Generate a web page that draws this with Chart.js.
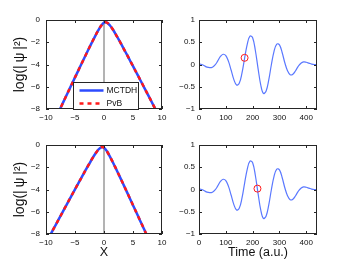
<!DOCTYPE html>
<html>
<head>
<meta charset="utf-8">
<script src="https://cdn.jsdelivr.net/npm/chart.js@4.4.1/dist/chart.umd.min.js"></script>
<style>
    html, body { margin: 0; padding: 0; background: #fff; }
    #wrap { position: relative; width: 350px; height: 264px; }
    canvas { position: absolute; }
</style>
</head>
<body>
<div id="wrap">
    <canvas id="myChart1" width="175" height="132" style="left:0;top:0"></canvas>
    <canvas id="myChart2" width="175" height="132" style="left:175px;top:0"></canvas>
    <canvas id="myChart3" width="175" height="132" style="left:0;top:132px"></canvas>
    <canvas id="myChart4" width="175" height="132" style="left:175px;top:132px"></canvas>
</div>
<script>
// wavefunction profiles, log(|psi|^2) vs X
const xTop = [-8,-7.5,-7,-6.5,-6,-5.5,-5,-4.5,-4,-3.5,-3,-2.5,-2,-1.5,-1,-0.5,0,0.5,1,1.5,2,2.5,3,3.5,4,4.5,5,5.5,6,6.5,7,7.5,8,8.5,9]
const psiTop = [-8.47,-7.91,-7.36,-6.81,-6.26,-5.71,-5.16,-4.62,-4.07,-3.53,-2.99,-2.45,-1.93,-1.42,-0.94,-0.52,-0.24,-0.23,-0.47,-0.83,-1.26,-1.72,-2.19,-2.68,-3.16,-3.66,-4.15,-4.65,-5.14,-5.64,-6.14,-6.64,-7.14,-7.65,-8.15]
const xBottom = [-9.5,-9,-8.5,-8,-7.5,-7,-6.5,-6,-5.5,-5,-4.5,-4,-3.5,-3,-2.5,-2,-1.5,-1,-0.5,0,0.5,1,1.5,2,2.5,3,3.5,4,4.5,5,5.5,6,6.5,7,7.5]
const psiBottom = [-8.31,-7.83,-7.35,-6.87,-6.38,-5.90,-5.42,-4.94,-4.46,-3.99,-3.51,-3.04,-2.57,-2.10,-1.65,-1.20,-0.79,-0.43,-0.21,-0.24,-0.56,-1.02,-1.53,-2.06,-2.61,-3.16,-3.72,-4.28,-4.85,-5.41,-5.97,-6.54,-7.11,-7.67,-8.24]
const zeroLineX = [0, 0]
const zeroLineY = [0, -8]

// signal vs time
const timeAU = [0,10,20,30,40,50,60,70,80,90,100,110,120,130,140,150,160,170,180,190,200,210,220,230,240,250,260,270,280,290,300,310,320,330,340,350,360,370,380,390,400,410,420,430,440]
const signal = [0.01,0,-0.03,-0.06,-0.07,-0.06,-0.01,0.08,0.18,0.23,0.20,0.07,-0.13,-0.34,-0.46,-0.42,-0.20,0.14,0.46,0.64,0.60,0.32,-0.08,-0.45,-0.65,-0.60,-0.35,0,0.30,0.46,0.44,0.27,0.04,-0.14,-0.23,-0.22,-0.14,-0.04,0.03,0.06,0.05,0.03,0.01,0,0]
const markerTopT = [170]
const markerTopV = [0.15]
const markerBottomT = [218]
const markerBottomV = [0.02]

// tick labels
const xTicksLeft = [-10,-5,0,5,10]
const yTicksLeft = [-8,-6,-4,-2,0]
const timeTicks = [0,100,200,300,400]
const signalTicks = [-1,-0.5,0,0.5,1]

const FONT = "'Liberation Sans', Arial, Helvetica, sans-serif"
const BLUE = "rgb(45,75,255)"
const RED = "rgb(255,25,25)"
const YLABEL = "log(|\u2009\u03C8\u2009|\u00B2)"

const pts = (xs, ys) => xs.map((x, i) => ({x: x, y: ys[i]}))
const minus = v => String(v).replace("-", "\u2212")

// matlab style box with inward ticks on all sides
const boxTicks = {
    id: "boxTicks",
    afterDatasetsDraw(chart) {
        const {ctx, chartArea: a, scales: {x, y}} = chart
        ctx.save()
        ctx.strokeStyle = "#262626"
        ctx.lineWidth = 1
        ctx.beginPath()
        x.ticks.forEach(t => {
            const px = Math.round(x.getPixelForValue(t.value)) + 0.5
            ctx.moveTo(px, a.bottom); ctx.lineTo(px, a.bottom - 3)
            ctx.moveTo(px, a.top); ctx.lineTo(px, a.top + 3)
        })
        y.ticks.forEach(t => {
            const py = Math.round(y.getPixelForValue(t.value)) + 0.5
            ctx.moveTo(a.left, py); ctx.lineTo(a.left + 3, py)
            ctx.moveTo(a.right, py); ctx.lineTo(a.right - 3, py)
        })
        ctx.stroke()
        ctx.strokeRect(a.left + 0.5, a.top + 0.5, a.width - 1, a.height - 1)
        ctx.restore()
    }
}

// legend box sitting on the bottom of the axes
const boxLegend = {
    id: "boxLegend",
    afterDraw(chart) {
        if (!chart.options.plugins.boxLegend) return
        const {ctx, chartArea: a} = chart
        const x0 = a.left + 27.5, w = 65, h = 27
        const y0 = a.bottom - h + 0.5
        ctx.save()
        ctx.fillStyle = "#fff"
        ctx.fillRect(x0, y0, w, h)
        ctx.strokeStyle = "#262626"
        ctx.lineWidth = 1
        ctx.strokeRect(x0, y0, w, h)
        ctx.font = "8.5px " + FONT
        ctx.textBaseline = "middle"
        chart.data.datasets.filter(d => d.label).forEach((d, i) => {
            const yy = y0 + 8 + i * 13
            ctx.strokeStyle = d.borderColor
            ctx.lineWidth = d.borderWidth
            ctx.setLineDash(d.borderDash || [])
            ctx.beginPath()
            ctx.moveTo(x0 + 6, yy)
            ctx.lineTo(x0 + 30, yy)
            ctx.stroke()
            ctx.fillStyle = "#111"
            ctx.fillText(d.label, x0 + 33, yy)
        })
        ctx.restore()
    }
}

function axes(xs, ys, xMin, xMax, yMin, yMax, yWidth, xHeight, yPad, yTitle, xTitle) {
    return {
        x: {
            type: "linear", min: xMin, max: xMax,
            grid: {display: false, drawTicks: false}, border: {display: false},
            afterBuildTicks: s => { s.ticks = xs.map(v => ({value: v})) },
            afterFit: s => { s.height = xHeight },
            ticks: {color: "#111", font: {family: FONT, size: 8}, padding: 4, maxRotation: 0, callback: minus},
            title: {display: !!xTitle, text: xTitle, color: "#111", font: {family: FONT, size: 12.5}, padding: {top: 0, bottom: 4}}
        },
        y: {
            type: "linear", min: yMin, max: yMax,
            grid: {display: false, drawTicks: false}, border: {display: false},
            afterBuildTicks: s => { s.ticks = ys.map(v => ({value: v})) },
            afterFit: s => { s.width = yWidth },
            ticks: {color: "#111", font: {family: FONT, size: 8}, padding: yPad, callback: minus},
            title: {display: !!yTitle, text: yTitle, color: "#111", font: {family: FONT, size: 14}, padding: {top: 12, bottom: 0}}
        }
    }
}

function profileSets(xs, ys) {
    return [{
        label: "MCTDH",
        data: pts(xs, ys),
        borderColor: BLUE, borderWidth: 2.5, pointRadius: 0, tension: 0.3, order: 2
    }, {
        label: "PvB",
        data: pts(xs, ys),
        borderColor: RED, borderWidth: 2.5, borderDash: [4, 4], pointRadius: 0, tension: 0.3, order: 1
    }, {
        data: pts(zeroLineX, zeroLineY),
        borderColor: "#9a9a9a", borderWidth: 1.5, pointRadius: 0, order: 3
    }]
}

function signalSets(mt, mv) {
    return [{
        data: pts(timeAU, signal),
        borderColor: "rgb(90,120,255)", borderWidth: 1.2, pointRadius: 0, tension: 0.4, order: 2
    }, {
        type: "scatter",
        data: pts(mt, mv),
        borderColor: RED, backgroundColor: "rgba(0,0,0,0)", borderWidth: 1, pointRadius: 3.5, order: 1
    }]
}

Chart.defaults.font.family = FONT
const base = {responsive: false, animation: false, events: []}
const noPlug = {legend: {display: false}, tooltip: {enabled: false}}

let myChart1 = document.querySelector("#myChart1").getContext("2d")
let myChart2 = document.querySelector("#myChart2").getContext("2d")
let myChart3 = document.querySelector("#myChart3").getContext("2d")
let myChart4 = document.querySelector("#myChart4").getContext("2d")

let chartOne = new Chart(myChart1, {
    type: "line",
    data: {datasets: profileSets(xTop, psiTop)},
    options: {...base,
        layout: {padding: {top: 20, right: 13, left: 0, bottom: 0}},
        plugins: {...noPlug, boxLegend: true},
        scales: axes(xTicksLeft, yTicksLeft, -10, 10, -8, 0, 46, 23, 6, YLABEL, "")
    },
    plugins: [boxTicks, boxLegend]
})

let chartTwo = new Chart(myChart2, {
    type: "line",
    data: {datasets: signalSets(markerTopT, markerTopV)},
    options: {...base,
        layout: {padding: {top: 20, right: 33, left: 0, bottom: 0}},
        plugins: noPlug,
        scales: axes(timeTicks, signalTicks, 0, 440, -1, 1, 24, 23, 4, "", "")
    },
    plugins: [boxTicks]
})

let chartThree = new Chart(myChart3, {
    type: "line",
    data: {datasets: profileSets(xBottom, psiBottom)},
    options: {...base,
        layout: {padding: {top: 13, right: 13, left: 0, bottom: 0}},
        plugins: noPlug,
        scales: axes(xTicksLeft, yTicksLeft, -10, 10, -8, 0, 46, 30, 6, YLABEL, "X")
    },
    plugins: [boxTicks]
})

let chartFour = new Chart(myChart4, {
    type: "line",
    data: {datasets: signalSets(markerBottomT, markerBottomV)},
    options: {...base,
        layout: {padding: {top: 13, right: 33, left: 0, bottom: 0}},
        plugins: noPlug,
        scales: axes(timeTicks, signalTicks, 0, 440, -1, 1, 24, 30, 4, "", "Time (a.u.)")
    },
    plugins: [boxTicks]
})
</script>
</body>
</html>
